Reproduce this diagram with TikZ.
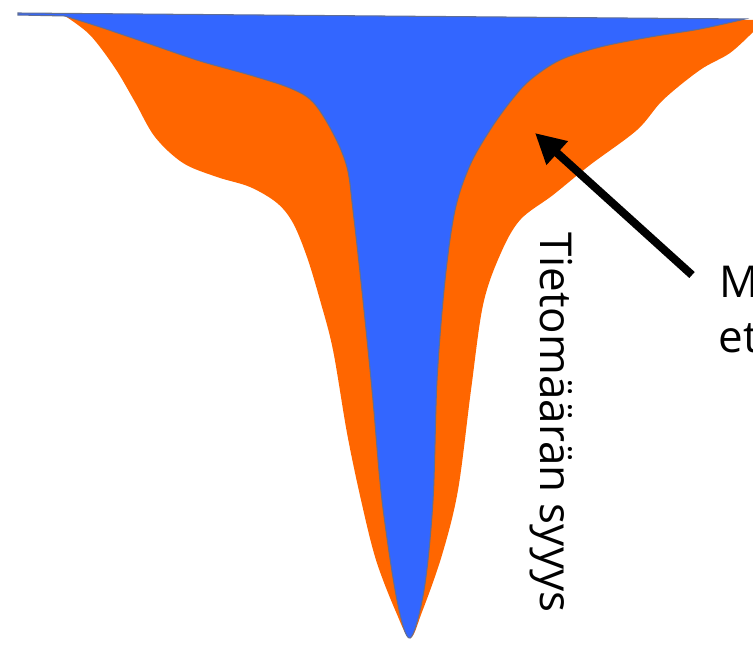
\documentclass[tikz,border=0pt]{standalone}
\usepackage{fontspec}
\setmainfont{Open Sans}
\usepackage{tikz}
\usetikzlibrary{arrows.meta}

\definecolor{funnelblue}{RGB}{51,102,255}
\definecolor{funnelorange}{RGB}{255,102,0}
\definecolor{edgegray}{RGB}{95,110,150}

\tikzset{
  bigtext/.style={font=\fontsize{25}{30}\selectfont, inner sep=0pt},
  pointer/.style={-{Triangle[length=0.6cm, width=0.6cm]}, line width=4.6pt, black}
}

\begin{document}
\begin{tikzpicture}[x=0.02cm, y=-0.02cm]

\useasboundingbox (0,0) rectangle (753,645);

% --- Orange layer (outer) ---
\fill[funnelorange] (18,13) -- (753,20) -- plot[smooth, tension=0.55] coordinates {
  (753,32) (730,53) (700,70) (663,100) (637,130) (590,165) (553,195)
  (520,220) (500,255) (483,305) (471,390) (458,490) (442,555) (422,612)
  (410,638)
  (396,612) (376,560) (361,500) (347,433) (333,350) (320,300) (307,257)
  (293,223) (277,203) (250,187) (217,177) (183,163) (155,137) (135,102)
  (115,68) (90,35) (65,16)}
  -- cycle;

% --- Blue layer (inner) ---
\fill[funnelblue, draw=edgegray, line width=0.6pt] (18,13) -- plot[smooth, tension=0.55] coordinates {
  (745,19) (700,29) (650,37) (600,47) (560,60) (530,80) (510,102)
  (490,130) (470,165) (455,210) (445,280) (437,380) (433,500) (424,590)
  (410,638)
  (397,600) (382,500) (373,400) (363,300) (353,210) (347,167) (333,133)
  (313,102) (290,88) (250,75) (200,61) (150,44) (100,27) (65,16)}
  -- (18,15) -- cycle;

% --- Labels ---
\node[bigtext, rotate=-90, anchor=base west] (cause) at (540,232) {Tietomäärän syyys};
\node[bigtext, anchor=base west] (mtext) at (719,297) {M};
\node[bigtext, anchor=base west] (ettext) at (718,352) {et};

% --- Arrow ---
\coordinate (tail) at (692,275);
\coordinate (tip) at (535,133);
\draw[pointer] (tail) -- (tip);

\end{tikzpicture}
\end{document}
